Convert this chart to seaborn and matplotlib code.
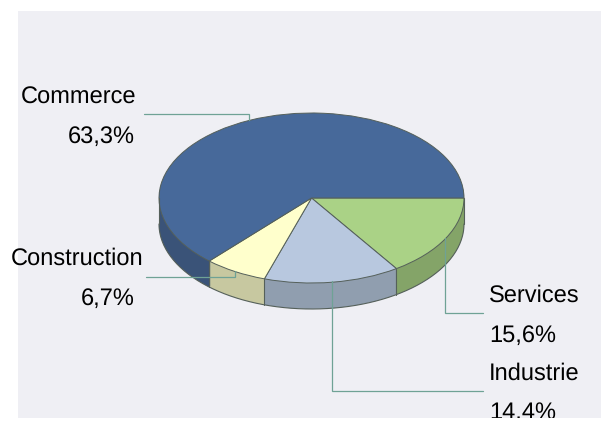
import numpy as np
import matplotlib
matplotlib.use("Agg")
import matplotlib.pyplot as plt
import seaborn as sns
from matplotlib.patches import Rectangle

categories = ["Services", "Industrie", "Construction", "Commerce"]
shares = [15.6, 14.4, 6.7, 63.3]
value_labels = ["15,6%", "14,4%", "6,7%", "63,3%"]
top_colors = ["#AAD286", "#B8C8DF", "#FFFFCC", "#47699A"]
side_colors = ["#84A468", "#909EAF", "#C7C8A0", "#3A5378"]

EDGE = "#55605A"
LEADER = "#6FA295"

sns.set_theme(style="white")
plt.rcParams["font.family"] = ["Liberation Sans", "DejaVu Sans"]
plt.rcParams["text.hinting"] = "none"

W, H = 601, 421
CX, CY, RX, RY, DEPTH = 311.5, 198, 152.5, 85, 26

fig = plt.figure(figsize=(W / 100, H / 100), dpi=100, facecolor="white")

# grey panel behind everything
panel = Rectangle((18 / W, 1 - 418 / H), (W - 18) / W, 407 / H, zorder=-1,
                  transform=fig.transFigure, facecolor="#EFEFF4", edgecolor="none")
fig.add_artist(panel)

ax = fig.add_axes([0, 0, 1, 1])
depth = DEPTH / RY

# side wall: stacked pies going up, then the top face
for off in np.linspace(depth, 0, DEPTH + 1)[:-1]:
    ax.pie(shares, colors=sns.color_palette(side_colors), startangle=0, counterclock=False,
           center=(0, -off), wedgeprops={"linewidth": 0})

# outline of the wall and the seams between slices
angles = np.deg2rad(-np.cumsum([0] + shares) * 3.6)
for a in angles[:-1]:
    if np.sin(a) <= 0:
        ax.plot([np.cos(a)] * 2, [np.sin(a), np.sin(a) - depth], color=EDGE, lw=0.8)
ax.plot([-1, -1], [0, -depth], color=EDGE, lw=0.8)
t = np.linspace(np.pi, 2 * np.pi, 200)
ax.plot(np.cos(t), np.sin(t) - depth, color=EDGE, lw=0.8)

ax.pie(shares, colors=sns.color_palette(top_colors), startangle=0, counterclock=False,
       wedgeprops={"linewidth": 0.7, "edgecolor": EDGE})

ax.set_aspect("auto")
ax.set_xlim(-CX / RX, (W - CX) / RX)
ax.set_ylim((CY - H) / RY, CY / RY)
ax.patch.set_visible(False)
ax.axis("off")

# leader lines and labels, in pixel coordinates
ov = fig.add_axes([0, 0, 1, 1])
ov.set_xlim(0, W)
ov.set_ylim(H, 0)
ov.axis("off")

leaders = [
    ([445, 445, 483], [238, 313, 313]),
    ([332, 332, 483], [281, 391, 391]),
    ([146, 235, 235], [277, 277, 271]),
    ([144, 249, 249], [114, 114, 120]),
]
for xs, ys in leaders:
    ov.plot(xs, ys, color=LEADER, lw=0.9, solid_joinstyle="miter")

clip = Rectangle((0, 0), W, 418, transform=ov.transData)
label_pos = [
    (489, 302, "left", 489, 342, "left"),
    (489, 380, "left", 489, 419, "left"),
    (143, 265, "right", 135, 305, "right"),
    (136, 104, "right", 135, 143, "right"),
]
for name, val, (x1, y1, ha1, x2, y2, ha2) in zip(categories, value_labels, label_pos):
    ov.text(x1, y1, name, ha=ha1, va="baseline", fontsize=17, color="black")
    txt = ov.text(x2, y2, val, ha=ha2, va="baseline", fontsize=17, color="black", clip_on=True)
    txt.set_clip_path(clip)

fig.savefig("out.png", dpi=100)
